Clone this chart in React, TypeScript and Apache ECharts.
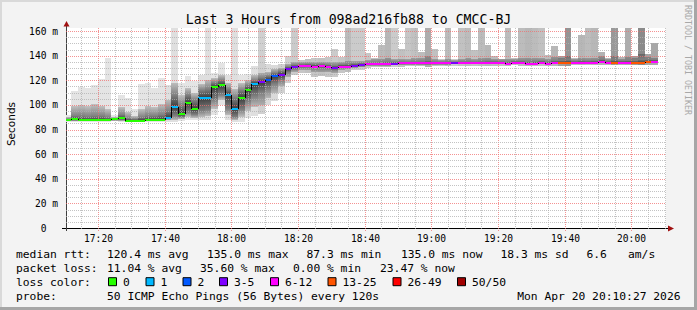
import React, { useEffect, useRef } from 'react';
import * as echarts from 'echarts';

// ---------- texts ----------
const TITLE = 'Last 3 Hours from 098ad216fb88 to CMCC-BJ';
const Y_AXIS_NAME = 'Seconds';
const WATERMARK = 'RRDTOOL / TOBI OETIKER';
const PROBE_TEXT = '50 ICMP Echo Pings (56 Bytes) every 120s';
const DATE_TEXT = 'Mon Apr 20 20:10:27 2026';
const RTT_STATS = ['120.4 ms avg', '135.0 ms max', '87.3 ms min', '135.0 ms now', '18.3 ms sd', '6.6', 'am/s'];
const LOSS_STATS = ['11.04 % avg', '35.60 % max', '0.00 % min', '23.47 % now'];
const LOSS_LEGEND = ['0', '1', '2', '3-5', '6-12', '13-25', '26-49', '50/50'];
const LOSS_COLORS = ['#26ff00', '#00b8ff', '#0059ff', '#7e00ff', '#ff00ff', '#ff5500', '#ff0000', '#a00000'];
const LOSS_UPPER = [0, 1, 2, 5, 12, 25, 49, 50];

// ---------- axes ----------
const X_START = '17:10:27';
const X_END = '20:10:27';
const FIRST_STEP = '17:10:00';
const STEP_MINUTES = 2;
const X_TICK_LABELS = ['17:20', '17:40', '18:00', '18:20', '18:40', '19:00', '19:20', '19:40', '20:00'];
const Y_TICKS = [0, 20, 40, 60, 80, 100, 120, 140, 160];
const Y_MAX = 162.5;

// ---------- data (ms), one value per 120 s step ----------
const median = [
  87.6, 88.3, 87.5, 87.5, 87.5, 87.5, 87.5, 88.3, 89.0, 87.3,
  87.3, 87.3, 87.8, 87.8, 87.8, 89.6, 98.5, 92.7, 101.9, 96.9,
  105.8, 105.8, 114.7, 116.4, 108.2, 97.0, 105.9, 112.2, 117.2, 118.6,
  120.6, 123.5, 124.7, 129.5, 131.0, 131.7, 131.9, 131.2, 131.5, 130.9,
  130.2, 131.2, 131.2, 131.8, 132.2, 133.0, 133.2, 133.2, 133.2, 133.4,
  133.7, 133.7, 133.7, 133.7, 133.7, 133.7, 133.7, 133.7, 133.7, 133.8,
  133.8, 133.8, 133.8, 134.2, 134.2, 134.2, 133.3, 134.3, 134.3, 133.3,
  133.3, 134.3, 133.3, 134.3, 134.3, 134.3, 134.3, 134.3, 134.3, 134.3,
  135.0, 134.3, 134.3, 134.3, 134.3, 134.3, 134.3, 135.0, 135.0,
];
const lostPings = [
  0, 0, 0, 0, 0, 0, 0, 0, 0, 0,
  0, 0, 0, 0, 0, 1, 1, 0, 0, 0,
  1, 1, 0, 0, 1, 1, 0, 0, 1, 4,
  2, 2, 4, 4, 5, 6, 7, 6, 7, 6,
  5, 6, 8, 5, 5, 6, 7, 8, 9, 5,
  7, 6, 7, 8, 11, 7, 6, 8, 5, 7,
  8, 7, 8, 9, 8, 7, 8, 7, 8, 9,
  8, 7, 8, 9, 14, 16, 8, 9, 8, 9,
  10, 9, 15, 10, 11, 14, 18, 13, 12,
];
const smokeLo = [
  86.5, 86.3, 86.3, 86.3, 86.3, 86.3, 86.3, 86.8, 86.5, 86.3,
  86.3, 86.3, 86.3, 86.3, 86.3, 86.5, 86.3, 86.8, 87.5, 87.5,
  87.5, 88.0, 92.0, 100.0, 87.5, 86.5, 86.5, 89.0, 91.0, 92.5,
  99.6, 103.0, 110.0, 118.0, 124.0, 126.0, 126.0, 123.0, 123.5, 123.0,
  123.0, 126.0, 127.0, 128.0, 128.5, 130.0, 130.5, 130.5, 130.5, 131.0,
  131.0, 131.5, 131.5, 131.5, 131.0, 131.5, 131.5, 131.5, 131.8, 131.8,
  131.8, 131.8, 131.8, 132.0, 132.0, 132.0, 131.5, 132.2, 132.0, 131.5,
  131.5, 132.0, 131.5, 132.0, 132.0, 132.0, 132.2, 132.2, 132.2, 132.2,
  132.5, 132.2, 132.2, 132.2, 132.2, 132.2, 132.2, 132.8, 132.8,
];
const smokeP10 = [
  86.8, 86.8, 86.7, 86.7, 86.7, 86.7, 86.7, 87.2, 87.0, 86.7,
  86.6, 86.7, 86.8, 86.8, 86.8, 87.5, 88.0, 88.5, 90.0, 89.5,
  90.5, 91.0, 97.0, 104.0, 92.0, 88.0, 90.0, 95.0, 98.0, 100.0,
  106.0, 110.0, 115.0, 123.0, 127.0, 128.5, 128.5, 126.5, 127.0, 126.5,
  126.0, 128.5, 129.0, 130.0, 130.5, 131.5, 132.0, 132.0, 132.0, 132.3,
  132.5, 132.6, 132.6, 132.7, 132.5, 132.7, 132.8, 132.8, 132.9, 132.9,
  132.9, 132.9, 132.9, 133.2, 133.2, 133.2, 132.7, 133.3, 133.2, 132.7,
  132.7, 133.3, 132.6, 133.2, 133.3, 133.3, 133.4, 133.4, 133.4, 133.4,
  134.0, 133.4, 133.4, 133.5, 133.5, 133.5, 133.5, 134.0, 134.0,
];
const smokeP25 = [
  87.2, 87.4, 87.2, 87.2, 87.2, 87.2, 87.2, 87.8, 87.8, 87.0,
  87.0, 87.1, 87.4, 87.4, 87.4, 88.5, 91.0, 90.0, 94.0, 92.0,
  95.0, 96.0, 104.0, 108.0, 97.0, 90.0, 96.0, 103.0, 107.0, 110.0,
  113.0, 117.0, 120.0, 126.5, 129.0, 130.3, 130.5, 129.5, 130.0, 129.5,
  128.5, 130.0, 130.2, 131.0, 131.3, 132.3, 132.6, 132.6, 132.7, 132.8,
  133.0, 133.1, 133.1, 133.1, 133.0, 133.2, 133.2, 133.2, 133.3, 133.3,
  133.3, 133.3, 133.4, 133.8, 133.8, 133.8, 133.1, 133.9, 133.8, 133.1,
  133.1, 133.9, 133.1, 133.8, 133.9, 133.9, 133.9, 133.9, 133.9, 133.9,
  134.6, 133.9, 134.0, 134.0, 134.0, 134.0, 134.0, 134.6, 134.6,
];
const smokeP75 = [
  88.6, 91.0, 91.0, 90.5, 91.0, 91.0, 90.0, 89.0, 92.0, 89.0,
  88.5, 90.0, 91.0, 91.0, 92.0, 95.0, 108.0, 100.0, 108.0, 104.0,
  112.0, 113.0, 118.0, 120.0, 113.0, 106.0, 112.0, 116.0, 120.0, 122.0,
  123.5, 126.0, 127.5, 131.0, 132.5, 133.0, 133.2, 133.0, 133.0, 132.5,
  132.0, 132.8, 133.0, 133.5, 134.0, 134.5, 134.5, 134.8, 135.0, 135.0,
  135.2, 135.0, 135.2, 135.3, 136.0, 135.2, 135.0, 135.2, 135.0, 135.2,
  135.3, 135.2, 135.3, 135.5, 135.5, 135.3, 135.0, 135.5, 135.5, 135.2,
  135.3, 135.6, 135.0, 135.8, 136.0, 136.5, 135.5, 135.8, 135.6, 135.8,
  137.0, 135.5, 136.5, 135.8, 136.0, 136.0, 137.0, 137.0, 136.8,
];
const smokeP90 = [
  90.0, 99.0, 100.0, 99.0, 100.5, 99.0, 97.0, 90.5, 98.0, 94.0,
  91.0, 97.0, 99.0, 98.0, 101.0, 104.0, 118.0, 108.0, 114.0, 110.0,
  117.0, 120.0, 122.0, 124.0, 118.0, 113.0, 118.0, 120.0, 124.0, 126.0,
  127.0, 129.0, 130.0, 133.0, 134.5, 134.5, 135.0, 135.0, 135.0, 134.5,
  135.0, 135.0, 135.5, 136.0, 136.0, 136.5, 137.0, 137.0, 138.0, 137.0,
  137.0, 137.5, 138.0, 138.0, 140.0, 137.5, 136.5, 137.5, 136.5, 137.5,
  138.0, 137.5, 138.0, 138.0, 137.5, 137.0, 137.5, 137.0, 138.0, 138.0,
  138.0, 138.0, 137.0, 139.0, 138.5, 140.0, 137.0, 138.5, 138.0, 138.5,
  139.5, 137.0, 140.0, 137.5, 139.0, 138.0, 141.0, 139.0, 138.5,
];
const smokeHi = [
  91.5, 111.3, 114.6, 114.0, 115.9, 120.8, 138.1, 92.0, 108.0, 105.4,
  97.0, 116.7, 118.0, 114.0, 122.0, 115.9, 165.0, 118.0, 123.5, 119.4,
  124.0, 165.0, 126.2, 134.3, 124.0, 165.0, 124.0, 124.9, 131.6, 165.0,
  133.0, 132.5, 133.5, 140.0, 165.0, 136.4, 137.5, 138.3, 138.3, 139.0,
  145.4, 139.0, 165.0, 165.0, 165.0, 142.0, 138.3, 148.6, 165.0, 165.0,
  145.4, 165.0, 165.0, 143.0, 165.0, 145.4, 137.5, 165.0, 137.5, 165.0,
  165.0, 144.6, 165.0, 148.6, 140.0, 137.5, 165.0, 138.0, 165.0, 165.0,
  165.0, 165.0, 140.5, 148.0, 140.0, 165.0, 138.0, 156.7, 165.0, 165.0,
  143.2, 138.0, 165.0, 139.0, 165.0, 140.0, 165.0, 141.5, 150.3,
];

// ---------- helpers ----------
const toMin = (s: string) => {
  const p = s.split(':').map(Number);
  return (p[0] - 17) * 60 + p[1] + (p[2] || 0) / 60;
};
const X_MIN = toMin(X_START);
const X_MAX = toMin(X_END);
const FIRST = toMin(FIRST_STEP);
const stepStart = (k: number) => Math.max(X_MIN, FIRST + k * STEP_MINUTES);
const stepEnd = (k: number) => FIRST + (k + 1) * STEP_MINUTES;
const bucketOf = (l: number) => LOSS_UPPER.findIndex((u) => l <= u);
const grey = (v: number) => {
  const c = Math.max(0, Math.min(255, Math.round(v)));
  const h = c.toString(16).padStart(2, '0');
  return '#' + h + h + h;
};
const outerShade = (l: number) => Math.max(120, 228 - 5 * l);

const FONT_MONO = '"DejaVu Sans Mono", monospace';

export default function App() {
  const ref = useRef<HTMLDivElement>(null);
  useEffect(() => {
    if (!ref.current) return;
    const chart = echarts.init(ref.current, undefined, { renderer: 'svg' });

    const smokeData = median.map((m, k) => [
      stepStart(k), stepEnd(k), smokeLo[k], smokeP10[k], smokeP25[k], smokeP75[k], smokeP90[k], smokeHi[k], m, lostPings[k],
    ]);
    const medianData = median.map((m, k) => [stepStart(k), stepEnd(k), m, k > 0 ? median[k - 1] : m, lostPings[k]]);

    const xMajor = X_TICK_LABELS.map((l) => toMin(l));
    const gridData: number[][] = [];
    for (let t = Math.ceil(X_MIN / 5) * 5; t <= X_MAX; t += 5) {
      gridData.push([0, t, xMajor.includes(t) ? 1 : 0]);
    }
    for (let v = 5; v <= 160; v += 5) {
      gridData.push([1, v, Y_TICKS.includes(v) ? 1 : 0]);
    }

    const renderSmoke = (params: any, api: any) => {
      const t0 = api.value(0);
      const t1 = api.value(1);
      const lo = api.value(2), p10 = api.value(3), p25 = api.value(4), p75 = api.value(5), p90 = api.value(6);
      const hi = Math.min(api.value(7), Y_MAX);
      const med = api.value(8);
      const l = api.value(9);
      const x0 = Math.round(api.coord([t0, 0])[0]);
      const x1 = Math.round(api.coord([t1, 0])[0]);
      const y = (v: number) => api.coord([t0, Math.min(v, Y_MAX)])[1];
      const sh = outerShade(l);
      const y90 = Math.round(y(p90));
      const y10 = Math.round(y(p10));
      const H = Math.max(1, y10 - y90);
      const off = (v: number) => Math.min(1, Math.max(0, (y(v) - y90) / H));
      const grad = new echarts.graphic.LinearGradient(0, 0, 0, 1, [
        { offset: 0, color: grey(sh - 35) },
        { offset: off(p75), color: grey(0x80) },
        { offset: off(med), color: grey(0x3c) },
        { offset: off(p25), color: grey(0x80) },
        { offset: 1, color: grey(sh - 35) },
      ]);
      const yHi = Math.round(y(hi));
      const yLo = Math.round(y(lo));
      return {
        type: 'group',
        children: [
          { type: 'rect', shape: { x: x0, y: yHi, width: x1 - x0, height: yLo - yHi }, style: { fill: grey(sh) } },
          { type: 'rect', shape: { x: x0, y: y90, width: x1 - x0, height: y10 - y90 }, style: { fill: grad } },
        ],
      };
    };

    const renderGrid = (params: any, api: any) => {
      const orient = api.value(0);
      const v = api.value(1);
      const major = api.value(2) === 1;
      const color = major ? 'rgba(240,110,110,0.75)' : 'rgba(175,175,175,0.75)';
      if (orient === 0) {
        const x = Math.round(api.coord([v, 0])[0]) + 0.5;
        const yTop = api.coord([v, Y_MAX])[1];
        const yBot = api.coord([v, 0])[1];
        const children: any[] = [
          { type: 'line', shape: { x1: x, y1: yTop, x2: x, y2: yBot + (major ? 3 : 2) }, style: { stroke: color, lineWidth: 1, lineDash: [1, 1] } },
        ];
        if (major) {
          const idx = xMajor.indexOf(v);
          children.push({
            type: 'text',
            x: x,
            y: yBot + 10,
            style: {
              text: X_TICK_LABELS[idx], font: '9.6px ' + FONT_MONO, fill: '#000',
              align: 'center', verticalAlign: 'middle', textAlign: 'center', textVerticalAlign: 'middle',
            },
          });
        }
        return { type: 'group', children };
      }
      const yy = Math.round(api.coord([X_MIN, v])[1]) + 0.5;
      const xl = api.coord([X_MIN, v])[0];
      const xr = api.coord([X_MAX, v])[0];
      return { type: 'line', shape: { x1: xl, y1: yy, x2: xr, y2: yy }, style: { stroke: color, lineWidth: 1, lineDash: [1, 1] } };
    };

    const renderMedian = (params: any, api: any) => {
      const t0 = api.value(0);
      const t1 = api.value(1);
      const x0 = Math.round(api.coord([t0, 0])[0]);
      const x1 = Math.round(api.coord([t1, 0])[0]);
      const ym = Math.round(api.coord([t0, api.value(2)])[1]);
      const yp = Math.round(api.coord([t0, api.value(3)])[1]);
      const color = LOSS_COLORS[bucketOf(api.value(4))];
      const children: any[] = [
        { type: 'rect', shape: { x: x0, y: ym - 1, width: x1 - x0, height: 2 }, style: { fill: color } },
      ];
      if (ym !== yp) {
        children.push({ type: 'line', shape: { x1: x0 + 0.5, y1: yp, x2: x0 + 0.5, y2: ym }, style: { stroke: '#000', lineWidth: 1 } });
      }
      return { type: 'group', children };
    };

    const text = (t: string, x: number, y: number, size: number, extra: any = {}) => ({
      type: 'text',
      x,
      y,
      silent: true,
      style: {
        text: t, font: size + 'px ' + FONT_MONO, fill: '#000',
        align: 'left', verticalAlign: 'middle', textAlign: 'left', textVerticalAlign: 'middle',
        ...extra,
      },
    });

    const ROW_Y = [254.4, 268.4, 282.2, 296.2];
    const RTT_X = [107, 207, 306.5, 401, 500.5, 586.5, 628];
    const LOSS_X = [107, 200, 293, 380];
    const BOX_X = [108, 145.5, 182.5, 219, 270, 327.5, 392.5, 457];
    const LEG = 11.3;

    const graphic: any[] = [
      { type: 'rect', shape: { x: 0, y: 0, width: 697, height: 2 }, style: { fill: '#d9d9d9' } },
      { type: 'rect', shape: { x: 0, y: 0, width: 2, height: 310 }, style: { fill: '#d9d9d9' } },
      { type: 'rect', shape: { x: 694, y: 0, width: 3, height: 310 }, style: { fill: '#a6a6a6' } },
      { type: 'rect', shape: { x: 0, y: 307, width: 697, height: 3 }, style: { fill: '#a6a6a6' } },
      { type: 'line', shape: { x1: 62, y1: 228.5, x2: 669, y2: 228.5 }, style: { stroke: '#000', lineWidth: 1 } },
      { type: 'line', shape: { x1: 66.5, y1: 231, x2: 66.5, y2: 25 }, style: { stroke: '#404040', lineWidth: 1 } },
      { type: 'polygon', shape: { points: [[63.5, 26.5], [69.5, 26.5], [66.5, 21]] }, style: { fill: '#a01010' } },
      { type: 'polygon', shape: { points: [[668, 225.5], [668, 231.5], [674, 228.5]] }, style: { fill: '#a01010' } },
      text(TITLE, 348.5, 19.3, 13.2, { align: 'center', textAlign: 'center' }),
      {
        type: 'text', x: 11, y: 124, rotation: Math.PI / 2, silent: true,
        style: { text: Y_AXIS_NAME, font: '10.5px "DejaVu Sans", sans-serif', fill: '#000', align: 'center', verticalAlign: 'middle', textAlign: 'center', textVerticalAlign: 'middle' },
      },
      {
        type: 'text', x: 687.5, y: 5, rotation: -Math.PI / 2, silent: true,
        style: { text: WATERMARK, font: '8.3px ' + FONT_MONO, fill: '#a8a8a8', align: 'left', verticalAlign: 'middle', textAlign: 'left', textVerticalAlign: 'middle' },
      },
      text('median rtt:', 16, ROW_Y[0], LEG),
      ...RTT_STATS.map((s, i) => text(s, RTT_X[i], ROW_Y[0], LEG)),
      text('packet loss:', 16, ROW_Y[1], LEG),
      ...LOSS_STATS.map((s, i) => text(s, LOSS_X[i], ROW_Y[1], LEG)),
      text('loss color:', 16, ROW_Y[2], LEG),
      ...LOSS_LEGEND.map((s, i) => ({
        type: 'rect', shape: { x: BOX_X[i] + 0.5, y: ROW_Y[2] - 4.5, width: 8, height: 8 },
        style: { fill: LOSS_COLORS[i], stroke: '#000', lineWidth: 1 },
      })),
      ...LOSS_LEGEND.map((s, i) => text(s, BOX_X[i] + 15, ROW_Y[2], LEG)),
      text('probe:', 16, ROW_Y[3], LEG),
      text(PROBE_TEXT, 107, ROW_Y[3], LEG),
      text(DATE_TEXT, 680.5, ROW_Y[3], LEG, { align: 'right', textAlign: 'right' }),
    ];

    chart.setOption({
      animation: false,
      backgroundColor: '#f3f3f3',
      grid: { left: 66, top: 28, width: 600, height: 200, show: true, backgroundColor: '#ffffff', borderWidth: 0 },
      xAxis: { type: 'value', min: X_MIN, max: X_MAX, show: false },
      yAxis: {
        type: 'value', min: 0, max: Y_MAX, interval: 20,
        axisLine: { show: false }, axisTick: { show: false }, splitLine: { show: false },
        axisLabel: {
          margin: 8,
          color: '#000',
          fontFamily: FONT_MONO,
          fontSize: 9.6,
          formatter: (v: number) => (Y_TICKS.includes(v) ? (v === 0 ? '{z|0}' : v + ' m') : ''),
          rich: { z: { fontFamily: FONT_MONO, fontSize: 9.6, color: '#000', padding: [0, 11.6, 0, 0] } },
        },
      },
      series: [
        { type: 'custom', name: 'smoke', z: 2, renderItem: renderSmoke, data: smokeData, silent: true },
        { type: 'custom', name: 'grid', z: 3, renderItem: renderGrid, data: gridData, silent: true },
        { type: 'custom', name: 'median', z: 4, renderItem: renderMedian, data: medianData, silent: true },
      ],
      graphic,
    });
    return () => chart.dispose();
  }, []);
  return <div ref={ref} style={{ position: 'fixed', left: 0, top: 0, width: 697, height: 310 }} />;
}
